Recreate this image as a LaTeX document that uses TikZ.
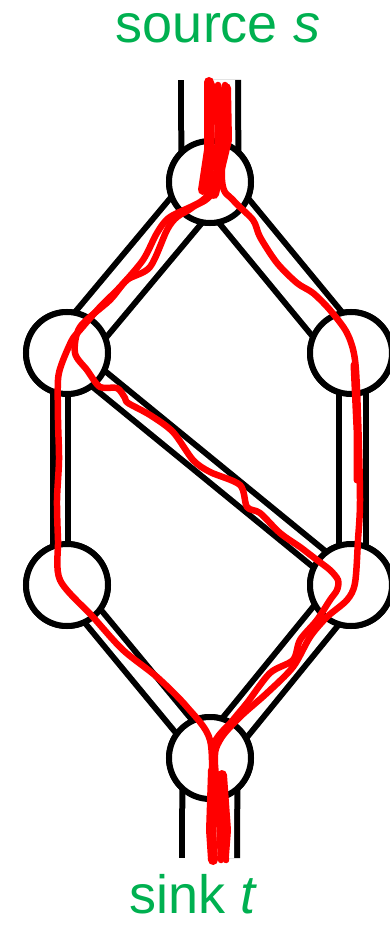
\documentclass[tikz,border=0pt]{standalone}
\usepackage{fontspec}
\setmainfont{Liberation Sans}
\usepackage{xcolor}
\definecolor{labelgreen}{RGB}{0,176,80}
\definecolor{flowred}{RGB}{255,0,0}

\begin{document}
\begin{tikzpicture}[x=1pt, y=-1pt,
    vertex/.style={circle, draw, line width=6pt, fill=white, minimum size=82pt, inner sep=0pt},
    pipe/.style={draw=black, line width=6pt, double=white},
    flow/.style={draw=flowred, line width=6.5pt, line cap=round, line join=round},
    caption/.style={text=labelgreen, font=\fontsize{54pt}{60pt}\selectfont, anchor=base, inner sep=0pt}]
    \useasboundingbox (0,0) rectangle (389,925);

    % Wierzcholki
    \node[vertex] (s) at (210,182) {};
    \node[vertex] (A) at (67,353) {};
    \node[vertex] (B) at (351,353) {};
    \node[vertex] (C) at (67,585) {};
    \node[vertex] (D) at (351,585) {};
    \node[vertex] (t) at (210,758) {};
    \coordinate (in) at (209.5,80);
    \coordinate (out) at (209.5,858);

    % Rury
    \draw[pipe, double distance=51pt] (in) -- (s.center);
    \draw[pipe, double distance=34pt] (s.center) -- (A.center);
    \draw[pipe, double distance=32pt] (s.center) -- (B.center);
    \draw[pipe, double distance=9pt] ([xshift=-7pt]A.center) -- ([xshift=-7pt]C.center);
    \draw[pipe, double distance=21pt] ([xshift=1pt]B.center) -- ([xshift=1pt]D.center);
    \draw[pipe, double distance=14pt] (A.center) -- (D.center);
    \draw[pipe, double distance=14.5pt] (C.center) -- (t.center);
    \draw[pipe, double distance=25pt] (D.center) -- (t.center);
    \draw[pipe, double distance=49pt] (t.center) -- (out);

    % Wierzcholki na wierzchu
    \node[vertex] at (s) {};
    \node[vertex] at (A) {};
    \node[vertex] at (B) {};
    \node[vertex] at (C) {};
    \node[vertex] at (D) {};
    \node[vertex] at (t) {};

    % Przeplywy
    \draw[flow] plot[smooth, tension=0.5] coordinates {(212,85) (210,180) (203,200) (170,217) (157,233) (143,260) (120,287) (100,307) (80,330) (72,340) (62,363) (58,380) (58,420) (59,460) (57,500) (58,540) (60,580) (93,617) (123,650) (157,677) (187,707) (210,740) (212,800) (214,860)};
    \draw[flow] plot[smooth, tension=0.5] coordinates {(218,85) (215,185) (193,207) (177,217) (167,230) (150,267) (127,280) (110,300) (80,327) (75,353) (87,370) (100,387) (117,388) (125,398) (128,403) (150,415) (173,432) (193,460) (210,472) (240,485) (247,507) (260,513) (280,533) (300,547) (317,560) (330,570) (338,580) (337,590) (330,600) (317,620) (300,640) (293,660) (270,673) (247,703) (233,720) (213,747) (218,800) (221,860)};
    \draw[flow] plot[smooth, tension=0.5] coordinates {(225,85) (222,180) (233,200) (253,220) (260,237) (277,263) (297,283) (313,293) (330,310) (347,333) (355,360) (358,417) (360,500) (358,540) (355,583) (347,600) (327,617) (310,637) (293,667) (267,693) (240,717) (220,740) (215,765) (226,860)};
    \draw[flow, line width=10pt] (209,82) -- (209,150) -- (203,190);
    \draw[flow, line width=10pt] (226,88) -- (227,140) -- (214,194);
    \draw[flow, line width=7pt] (354,365) -- (357,430) -- (357,480);
    \draw[flow, line width=10pt] (213,770) -- (211,830) -- (213,860);
    \draw[flow, line width=10pt] (222,775) -- (226,830) -- (224,856);

    % Etykiety
    \node[caption] (src) at (218,43) {source \textit{s}};
    \node[caption] (snk) at (193,913) {sink \textit{t}};
\end{tikzpicture}
\end{document}
